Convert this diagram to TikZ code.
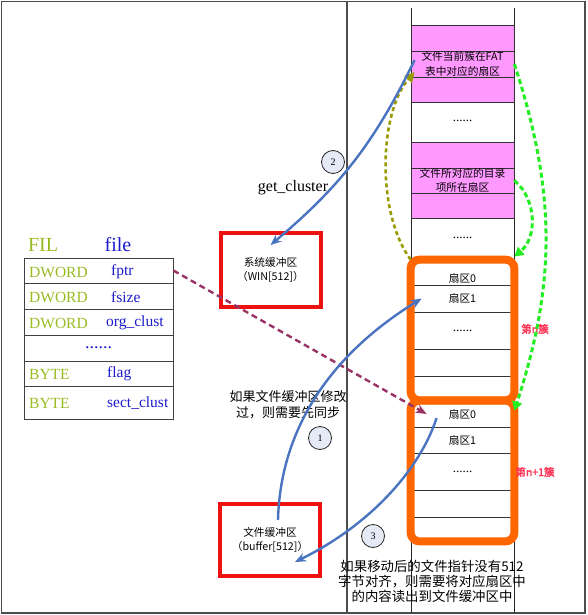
\documentclass[tikz,border=0pt]{standalone}
\usepackage{fontspec}
\setmainfont{Liberation Serif}
\newfontfamily\cjk{Noto Sans CJK SC}
\newfontfamily\cjkbold[FakeBold=2.5]{Noto Sans CJK SC}
\usetikzlibrary{arrows.meta}
\definecolor{pinkfill}{HTML}{FF99FF}
\definecolor{orangeclu}{HTML}{FF6600}
\definecolor{bufred}{HTML}{EE1111}
\definecolor{steelblue}{HTML}{4A74C0}
\definecolor{brightgreen}{HTML}{22EE22}
\definecolor{olivearr}{HTML}{999900}
\definecolor{wine}{HTML}{993366}
\definecolor{typegreen}{HTML}{99BB22}
\definecolor{nameblue}{HTML}{1A1ACC}
\definecolor{circfill}{HTML}{E6EAF6}
\definecolor{labred}{HTML}{FF3355}
\tikzset{
  frame/.style={draw=black!70, line width=1.2pt},
  colline/.style={draw=black!85, line width=0.9pt},
  sect/.style={draw=black!80, line width=0.8pt, minimum width=103pt, inner sep=0pt},
  pinksect/.style={sect, fill=pinkfill},
  seclabel/.style={align=center, font=\cjk\fontsize{10.7}{14.5}\selectfont},
  secdots/.style={font=\fontsize{13}{13}\selectfont},
  cluster/.style={draw=orangeclu, line width=8pt, rounded corners=9pt},
  clulabel/.style={text=labred, font=\cjkbold\fontsize{10.5}{12}\selectfont},
  buf/.style={draw=bufred, line width=4pt, minimum width=100pt, align=center, font=\cjk\fontsize{10.7}{14.5}\selectfont},
  trow/.style={draw=black!75, line width=0.8pt, minimum width=149pt, inner sep=0pt},
  ttype/.style={anchor=west, inner sep=0pt, text=typegreen, font=\fontsize{15.5}{16}\selectfont},
  tname/.style={anchor=west, inner sep=0pt, text=nameblue, font=\fontsize{15.5}{16}\selectfont},
  filhead/.style={font=\fontsize{20}{20}\selectfont},
  numcirc/.style={circle, draw=black!85, fill=circfill, line width=0.8pt, minimum size=23pt, inner sep=0pt, font=\fontsize{10}{10}\selectfont},
  note/.style={align=center, font=\cjk\fontsize{13}{15.5}\selectfont},
  bluearrow/.style={draw=steelblue, line width=2.4pt, -{Stealth[length=11pt,width=9pt]}},
  greenline/.style={draw=brightgreen, line width=3pt, dash pattern=on 5pt off 3pt, -{Triangle[length=9pt,width=10pt]}},
  oliveline/.style={draw=olivearr, line width=2.6pt, dash pattern=on 4pt off 3pt, -{Triangle[length=10pt,width=10pt]}},
  wineline/.style={draw=wine, line width=2.4pt, dash pattern=on 6pt off 4pt, -{Stealth[length=11pt,width=9pt]}}
}
\begin{document}
\begin{tikzpicture}[x=1pt,y=-1pt]
  \useasboundingbox (0,0) rectangle (588,615);
  \draw[frame] (1.5,1.5) rectangle (585,613);
  \draw[frame] (347,1.5) -- (347,613);
  \draw[colline] (411,8) -- (411,613) (514,8) -- (514,613);

  \node[pinksect, minimum height=26pt] (fat1) at (462.5,38) {};
  \node[pinksect, minimum height=26pt, seclabel] (fatsec) at (462.5,64) {文件当前簇在FAT\\表中对应的扇区};
  \node[pinksect, minimum height=25pt] (fat3) at (462.5,89.5) {};
  \node[secdots] (gap1) at (462.5,121) {......};
  \node[pinksect, minimum height=26pt] (dir1) at (462.5,155) {};
  \node[pinksect, minimum height=25pt, seclabel] (dirsec) at (462.5,180.5) {文件所对应的目录\\项所在扇区};
  \node[pinksect, minimum height=25pt] (dir3) at (462.5,205.5) {};
  \node[secdots] (gap2) at (462.5,238) {......};

  \node[sect, minimum height=25pt] (c1a) at (462.5,272.5) {};
  \node[sect, minimum height=27pt, seclabel] (c1b) at (462.5,298.5) {扇区1};
  \node[sect, minimum height=37pt, secdots] (c1c) at (462.5,330.5) {......};
  \node[sect, minimum height=27pt] (c1d) at (462.5,362.5) {};
  \node[sect, minimum height=24pt] (c1e) at (462.5,388) {};
  \node[seclabel] (c1a text) at (462.5,278) {扇区0};
  \node[sect, minimum height=26pt, seclabel] (c2a) at (462.5,414) {扇区0};
  \node[sect, minimum height=26pt, seclabel] (c2b) at (462.5,440) {扇区1};
  \node[sect, minimum height=37pt, secdots] (c2c) at (462.5,471.5) {......};
  \node[sect, minimum height=27pt] (c2d) at (462.5,503.5) {};
  \node[sect, minimum height=24pt] (c2e) at (462.5,529) {};
  \draw[cluster] (c1a.north west) rectangle (c1e.south east);
  \draw[cluster] (c2a.north west) rectangle (c2e.south east);
  \node[clulabel] (clu n) at (535,329) {第n簇};
  \node[clulabel] (clu n1) at (535,472) {第n+1簇};

  \node[filhead, text=typegreen] (fil) at (43,245) {FIL};
  \node[filhead, text=nameblue] (file) at (118,245) {file};
  \node[trow, minimum height=25pt] (r1) at (98.5,270.5) {};
  \node[trow, minimum height=26pt] (r2) at (98.5,296) {};
  \node[trow, minimum height=26pt] (r3) at (98.5,322) {};
  \node[trow, minimum height=26pt, text=nameblue, font=\fontsize{18}{18}\selectfont] (r4) at (98.5,348) {......};
  \node[trow, minimum height=25pt] (r5) at (98.5,373.5) {};
  \node[trow, minimum height=33pt] (r6) at (98.5,402.5) {};
  \node[ttype] (t1) at (29,272) {DWORD};
  \node[tname] (n1) at (111,272) {fptr};
  \node[ttype] (t2) at (29,297) {DWORD};
  \node[tname] (n2) at (111,297) {fsize};
  \node[ttype] (t3) at (29,323) {DWORD};
  \node[tname] (n3) at (106,323) {org\_clust};
  \node[ttype] (t5) at (29,374) {BYTE};
  \node[tname] (n5) at (107,374) {flag};
  \node[ttype] (t6) at (29,403) {BYTE};
  \node[tname] (n6) at (107,403) {sect\_clust};

  \node[buf, minimum height=74pt] (sysbuf) at (270.5,270) {系统缓冲区\\（WIN[512]）};
  \node[buf, minimum height=72pt] (filebuf) at (270,540) {文件缓冲区\\（buffer[512]）};

  \node[font=\fontsize{16}{16}\selectfont] (getclu) at (293,188) {get\_cluster};
  \node[note] (sync) at (288,404.5) {如果文件缓冲区修改\\过，则需要先同步};
  \node[note, font=\cjk\fontsize{13.4}{15}\selectfont] (realign) at (432,581) {如果移动后的文件指针没有512\\字节对齐，则需要将对应扇区中\\的内容读出到文件缓冲区中};

  \begin{scope}
    \draw[wineline] (r1.east) -- ([xshift=16pt]c2a.west);
    \draw[greenline] (fatsec.east) to[bend left=18] ([yshift=-10pt]c2a.north east);
    \draw[greenline] (dirsec.east) to[bend left=50] ([yshift=3pt]c1a.north east);
    \draw[oliveline] (c1a.north west) .. controls +(-35,-48) and +(-35,40) .. ([xshift=4pt,yshift=-8pt]fatsec.west);
    \draw[bluearrow] ([xshift=4pt,yshift=4pt]fatsec.west) to[bend left=12] ([yshift=-14pt]sysbuf.north);
    \draw[bluearrow] ([xshift=8pt,yshift=-18pt]filebuf.north) .. controls +(2,-80) and +(-102,63) .. ([xshift=11pt]c1b.west);
    \draw[bluearrow] ([xshift=26pt,yshift=-4pt]c2a.west) .. controls +(-17,52) and +(75,-37) .. ([xshift=25pt,yshift=-22pt]filebuf.center);
  \end{scope}

  \node[numcirc] (num2) at (333,162) {2};
  \node[numcirc] (num1) at (320,438) {1};
  \node[numcirc] (num3) at (373,536) {3};
\end{tikzpicture}
\end{document}
